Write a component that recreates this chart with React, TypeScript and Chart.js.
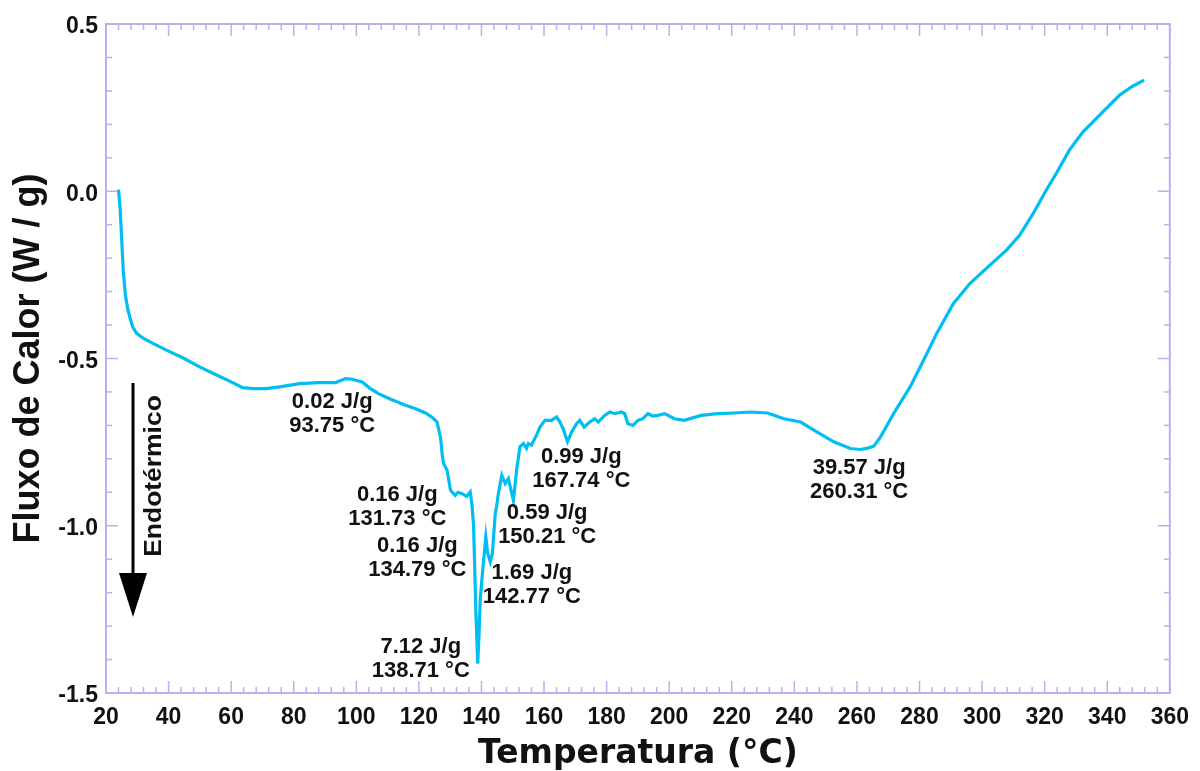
import React, { useEffect, useRef } from "react";
import { Chart, registerables } from "chart.js";

Chart.register(...registerables);

// ---- Data ----
const temperatures: number[] = [
  24.0, 24.5, 25.0, 25.5, 26.2, 27.0, 27.6, 28.5, 29.8, 32, 35, 39.3, 45, 49.9, 55, 60, 63.7, 67, 71.2, 76,
  81.8, 88, 93.4, 95, 96.6, 98.7, 101.9, 104.5, 107.2, 111, 115.7, 119, 122.1, 124.5, 125.8, 126.9, 127.5,
  127.9, 129.0, 129.5, 130.1, 131.6, 132.5, 133.8, 135.3, 136.4, 137.0, 137.5, 138.2, 138.8, 139.2, 139.6,
  140.3, 141.4, 142.0, 142.8, 143.5, 144.4, 144.9, 145.4, 146.5, 147.6, 148.6, 150.2, 151.3, 152.3, 153.4,
  154.4, 155.0, 156.0, 157.6, 158.7, 160.3, 162.4, 164.0, 165.1, 166.1, 167.5, 168.8, 170.4, 171.4, 172.8,
  174.6, 176.2, 177.3, 179.4, 181.0, 182.6, 184.7, 185.8, 186.8, 188.4, 190.0, 191.6, 193.2, 194.8, 196.4,
  198.5, 201.7, 204.8, 210.2, 215.5, 220.8, 226.1, 231.4, 236.7, 242.0, 247.3, 252.6, 257.9, 261.1, 263.5,
  265.4, 267.5, 271.7, 277.0, 281.3, 285.5, 290.8, 296.1, 302.5, 307.8, 312.0, 316.3, 320.5, 323.7, 327.9,
  332.2, 338.6, 343.9, 348.1, 351.8,
];
const heatFlow: number[] = [
  0.005, -0.05, -0.14, -0.236, -0.31, -0.355, -0.376, -0.405, -0.425, -0.44, -0.455, -0.475, -0.5, -0.525,
  -0.548, -0.57, -0.587, -0.59, -0.59, -0.584, -0.575, -0.572, -0.572, -0.566, -0.56, -0.562, -0.57, -0.59,
  -0.606, -0.622, -0.64, -0.65, -0.663, -0.678, -0.69, -0.735, -0.79, -0.814, -0.834, -0.86, -0.894, -0.909,
  -0.9, -0.904, -0.912, -0.899, -0.94, -1.004, -1.253, -1.412, -1.33, -1.223, -1.143, -1.033, -1.083,
  -1.108, -1.083, -0.964, -0.939, -0.904, -0.849, -0.874, -0.859, -0.924, -0.829, -0.764, -0.754, -0.769,
  -0.754, -0.759, -0.729, -0.705, -0.685, -0.685, -0.675, -0.69, -0.71, -0.749, -0.72, -0.695, -0.685,
  -0.705, -0.69, -0.68, -0.69, -0.67, -0.66, -0.665, -0.66, -0.665, -0.695, -0.7, -0.685, -0.68, -0.665,
  -0.672, -0.67, -0.665, -0.68, -0.685, -0.67, -0.665, -0.663, -0.66, -0.663, -0.68, -0.69, -0.72, -0.749,
  -0.769, -0.772, -0.768, -0.762, -0.735, -0.665, -0.585, -0.505, -0.425, -0.336, -0.276, -0.221, -0.176,
  -0.132, -0.067, 0.003, 0.053, 0.123, 0.177, 0.237, 0.287, 0.314, 0.332,
];

// Axis ranges / ticks
const X_MIN = 20;
const X_MAX = 360;
const X_STEP = 20;
const X_MINOR = 4;
const Y_MIN = -1.5;
const Y_MAX = 0.5;
const Y_STEP = 0.5;
const Y_MINOR = 0.1;

const xTitle = "Temperatura (°C)";
const yTitle = "Fluxo de Calor (W / g)";
const directionLabel = "Endotérmico";

// Peak annotations: text lines and the data point where each label block is centred
const annotationEnergy = ["0.02 J/g", "0.16 J/g", "0.16 J/g", "7.12 J/g", "1.69 J/g", "0.59 J/g", "0.99 J/g", "39.57 J/g"];
const annotationTemp = ["93.75 °C", "131.73 °C", "134.79 °C", "138.71 °C", "142.77 °C", "150.21 °C", "167.74 °C", "260.31 °C"];
const annotationAtT = [92.3, 113.1, 119.5, 120.6, 156.1, 161.0, 171.9, 260.7];
const annotationAtV = [-0.631, -0.909, -1.061, -1.363, -1.142, -0.963, -0.795, -0.828];

const LINE_COLOR = "#00bef2";
const FRAME_COLOR = "#b3b3f0";
const TEXT_COLOR = "#111111";

const framePlugin = {
  id: "frameTicks",
  beforeDatasetsDraw(chart: any) {
    const { ctx, chartArea: a, scales } = chart;
    const xs = scales.x;
    const ys = scales.y;
    ctx.save();
    ctx.strokeStyle = FRAME_COLOR;
    ctx.lineWidth = 2;
    ctx.strokeRect(a.left, a.top, a.right - a.left, a.bottom - a.top);
    ctx.lineWidth = 1.5;
    const seg = (x1: number, y1: number, x2: number, y2: number) => {
      ctx.beginPath();
      ctx.moveTo(x1, y1);
      ctx.lineTo(x2, y2);
      ctx.stroke();
    };
    const nx = Math.round((X_MAX - X_MIN) / X_MINOR);
    for (let i = 0; i <= nx; i++) {
      const v = X_MIN + i * X_MINOR;
      const r = (v - X_MIN) / X_STEP;
      const major = Math.abs(r - Math.round(r)) < 1e-6;
      const len = major ? 12 : 6;
      const px = xs.getPixelForValue(v);
      seg(px, a.bottom, px, a.bottom - len);
      seg(px, a.top, px, a.top + len);
    }
    const ny = Math.round((Y_MAX - Y_MIN) / Y_MINOR);
    for (let i = 0; i <= ny; i++) {
      const v = Y_MIN + i * Y_MINOR;
      const r = (v - Y_MIN) / Y_STEP;
      const major = Math.abs(r - Math.round(r)) < 1e-6;
      const len = major ? 12 : 6;
      const py = ys.getPixelForValue(v);
      seg(a.left, py, a.left + len, py);
      seg(a.right, py, a.right - len, py);
    }
    ctx.restore();
  },
  afterDatasetsDraw(chart: any) {
    const { ctx, chartArea: a, scales } = chart;
    const xs = scales.x;
    const ys = scales.y;
    ctx.save();
    ctx.fillStyle = TEXT_COLOR;
    ctx.textAlign = "center";
    ctx.textBaseline = "middle";
    ctx.font = 'bold 22px "Liberation Sans", Arial, sans-serif';
    for (let i = 0; i < annotationEnergy.length; i++) {
      const px = xs.getPixelForValue(annotationAtT[i]);
      const py = ys.getPixelForValue(annotationAtV[i]);
      ctx.fillText(annotationEnergy[i], px, py);
      ctx.fillText(annotationTemp[i], px, py + 24);
    }

    // Endothermic direction arrow
    const ax = a.left + 27;
    ctx.strokeStyle = "#000";
    ctx.fillStyle = "#000";
    ctx.lineWidth = 3;
    ctx.beginPath();
    ctx.moveTo(ax, a.top + 359);
    ctx.lineTo(ax, a.top + 560);
    ctx.stroke();
    ctx.beginPath();
    ctx.moveTo(ax - 14, a.top + 549);
    ctx.lineTo(ax + 14, a.top + 549);
    ctx.lineTo(ax, a.top + 593);
    ctx.closePath();
    ctx.fill();

    ctx.save();
    ctx.translate(a.left + 49, a.top + 452);
    ctx.rotate(-Math.PI / 2);
    ctx.scale(1.15, 1);
    ctx.font = 'bold 23px "Liberation Sans", Arial, sans-serif';
    ctx.fillStyle = TEXT_COLOR;
    ctx.fillText(directionLabel, 0, 0);
    ctx.restore();
    ctx.restore();
  },
};

export default function App() {
  const canvasRef = useRef<HTMLCanvasElement | null>(null);

  useEffect(() => {
    if (!canvasRef.current) return;
    const points = temperatures.map((t, i) => ({ x: t, y: heatFlow[i] }));
    const tickFont = { family: '"Liberation Sans", Arial, sans-serif', size: 23, weight: "bold" as const };
    const chart = new Chart(canvasRef.current, {
      type: "line",
      data: {
        datasets: [
          {
            data: points,
            borderColor: LINE_COLOR,
            borderWidth: 3.2,
            pointRadius: 0,
            tension: 0,
            fill: false,
          },
        ],
      },
      options: {
        animation: false,
        responsive: true,
        maintainAspectRatio: false,
        layout: { padding: { top: 24, right: 26, left: 0, bottom: 0 } },
        plugins: { legend: { display: false }, tooltip: { enabled: false } },
        scales: {
          x: {
            type: "linear",
            min: X_MIN,
            max: X_MAX,
            grid: { display: false, drawTicks: false },
            border: { display: false },
            ticks: {
              stepSize: X_STEP,
              padding: 11,
              color: TEXT_COLOR,
              font: tickFont,
              maxRotation: 0,
              autoSkip: false,
              callback: (v: any) => String(v),
            },
            title: {
              display: true,
              text: xTitle,
              color: TEXT_COLOR,
              font: { family: '"DejaVu Sans", sans-serif', size: 33, weight: "bold", lineHeight: 1 },
              padding: { top: 0, bottom: 0 },
            },
            afterFit: (scale: any) => {
              scale.height = 78;
            },
          },
          y: {
            type: "linear",
            min: Y_MIN,
            max: Y_MAX,
            grid: { display: false, drawTicks: false },
            border: { display: false },
            ticks: {
              stepSize: Y_STEP,
              padding: 8,
              labelOffset: 3,
              color: TEXT_COLOR,
              font: tickFont,
              callback: (v: any) => Number(v).toFixed(1),
            },
            title: {
              display: true,
              text: yTitle,
              color: TEXT_COLOR,
              font: { family: '"Liberation Sans", Arial, sans-serif', size: 36, weight: "bold", lineHeight: 1 },
              padding: { top: 11, bottom: 0 },
            },
            afterFit: (scale: any) => {
              scale.width = 106;
            },
          },
        },
      },
      plugins: [framePlugin],
    });
    const fontsApi: any = (document as any).fonts;
    if (fontsApi && fontsApi.load) {
      Promise.all([
        fontsApi.load('bold 22px "Liberation Sans"'),
        fontsApi.load('bold 33px "DejaVu Sans"'),
      ])
        .then(() => chart.update())
        .catch(() => {});
    }
    return () => {
      chart.destroy();
    };
  }, []);

  return (
    <div style={{ position: "absolute", left: 0, top: 0, width: 1200, height: 771, background: "#fff" }}>
      <canvas ref={canvasRef} />
    </div>
  );
}
